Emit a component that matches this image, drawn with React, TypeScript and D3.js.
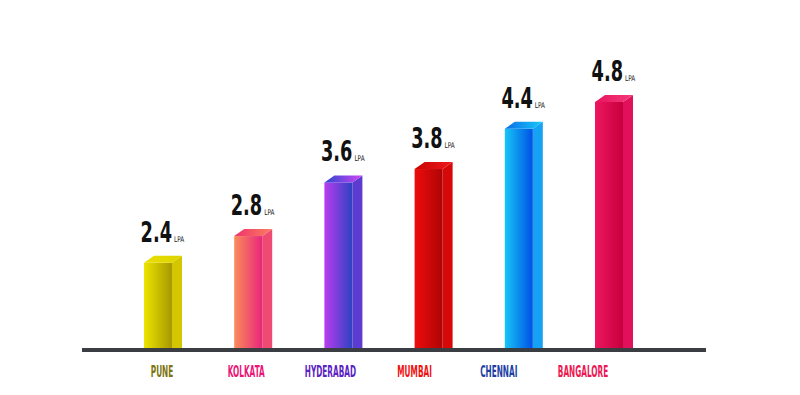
import React from "react";
import * as d3 from "d3";

const categories = ["PUNE", "KOLKATA", "HYDERABAD", "MUMBAI", "CHENNAI", "BANGALORE"];
const values = [2.4, 2.8, 3.6, 3.8, 4.4, 4.8];
const unitLabel = "LPA";
const labelColors = ["#7a7410", "#ec1478", "#5a22c4", "#f01010", "#1c3ea4", "#ec1652"];
const frontLeft = ["#ede500", "#f98c5a", "#bb3cee", "#ee0c0c", "#16c6f6", "#ee1662"];
const frontRight = ["#a69800", "#e8267c", "#2c42c4", "#ae0404", "#0050e4", "#c6003c"];
const sideColors = ["#d4c600", "#ee4a72", "#5c3cd0", "#d60808", "#16a2f4", "#e0105a"];
const topLeft = ["#e8de00", "#f0306c", "#2848d0", "#c80404", "#0a6ee8", "#e8145e"];
const topRight = ["#ddd400", "#f98060", "#d444f4", "#ee1a1a", "#18c8f8", "#f43a78"];

const W = 800;
const H = 395;
const baseY = 348;
const frontW = 28;
const depthX = 10;
const depthY = 7;

export default function App() {
  const x = d3.scalePoint<string>().domain(categories).range([158, 609]);
  const xLabel = d3.scalePoint<string>().domain(categories).range([162, 583]);
  const y = d3.scaleLinear().domain([1.13, 4.8]).range([baseY, 102]);

  const font = "'Liberation Sans Narrow', 'DejaVu Sans Condensed', 'Roboto', sans-serif";

  return (
    <svg
      width={W}
      height={H}
      style={{ position: "absolute", left: 0, top: 0, background: "#fff" }}
    >
      <defs>
        {categories.map((c, i) => (
          <React.Fragment key={c}>
            <linearGradient id={`front${i}`} x1="0" x2="1" y1="0" y2="0">
              <stop offset="0%" stopColor={frontLeft[i]} />
              <stop offset="100%" stopColor={frontRight[i]} />
            </linearGradient>
            <linearGradient id={`top${i}`} x1="0" x2="1" y1="0" y2="0">
              <stop offset="0%" stopColor={topLeft[i]} />
              <stop offset="100%" stopColor={topRight[i]} />
            </linearGradient>
          </React.Fragment>
        ))}
      </defs>

      {categories.map((c, i) => {
        const cx = x(c) as number;
        const l = cx - frontW / 2;
        const r = cx + frontW / 2;
        const t = y(values[i]);
        const backT = t - depthY;
        const txt = values[i].toFixed(1);
        return (
          <g key={c}>
            <polygon
              points={`${r},${t} ${r + depthX},${backT} ${r + depthX},${baseY} ${r},${baseY}`}
              fill={sideColors[i]}
            />
            <rect x={l} y={t} width={frontW} height={baseY - t} fill={`url(#front${i})`} />
            <polygon
              points={`${l},${t} ${l + depthX},${backT} ${r + depthX},${backT} ${r},${t}`}
              fill={`url(#top${i})`}
            />
            <text
              transform={`translate(${r},${backT - 14}) scale(0.68,1)`}
              textAnchor="end"
              fontFamily={font}
              fontWeight="bold"
              fontSize={29}
              fill="#111"
            >
              {txt}
            </text>
            <text
              transform={`translate(${r + 2},${backT - 14}) scale(0.8,1)`}
              fontFamily={font}
              fontSize={8}
              fill="#222"
            >
              {unitLabel}
            </text>
            <text
              transform={`translate(${xLabel(c) as number},377) scale(0.51,1)`}
              textAnchor="middle"
              fontFamily={font}
              fontWeight="bold"
              fontSize={16}
              fill={labelColors[i]}
            >
              {c}
            </text>
          </g>
        );
      })}

      <line x1={82} x2={706} y1={350} y2={350} stroke="#3a3d41" strokeWidth={4} />
    </svg>
  );
}
